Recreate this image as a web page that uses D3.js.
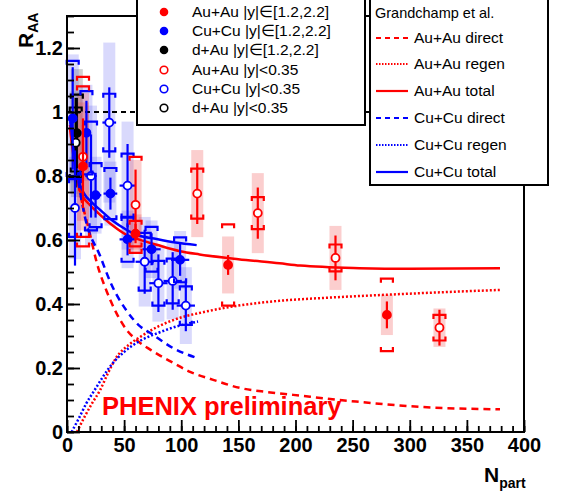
<!DOCTYPE html>
<html><head><meta charset="utf-8">
<script src="https://cdn.jsdelivr.net/npm/d3@7"></script>
<style>body{margin:0;background:#fff}svg{display:block;font-family:"Liberation Sans",Arial,Helvetica,sans-serif}</style>
</head><body><svg id="c" width="574" height="494"></svg>
<script>
// ---------- data ----------
const xTicks = [0, 50, 100, 150, 200, 250, 300, 350, 400];
const yTicks = [0, 0.2, 0.4, 0.6, 0.8, 1, 1.2];

// Au+Au |y| in [1.2,2.2] (filled red)
const auFwdNpart = [14, 60, 141, 280];
const auFwdRaa   = [0.83, 0.62, 0.522, 0.366];
const auFwdStat  = [0.13, 0.03, 0.031, 0.042];
const auFwdSys   = [0.25, 0.04, 0.127, 0.113];
const auFwdBox   = [0.20, 0.06, 0.089, 0.063];

// Au+Au |y|<0.35 (open red)
const auMidNpart = [14, 60, 114, 167, 235, 326];
const auMidRaa   = [0.86, 0.71, 0.745, 0.684, 0.544, 0.326];
const auMidStat  = [0.12, 0.11, 0.095, 0.08, 0.07, 0.056];
const auMidSys   = [0.25, 0.15, 0.078, 0.05, 0.042, 0.04];
const auMidBox   = [0.20, 0.14, 0.136, 0.125, 0.10, 0.06];

// Cu+Cu |y| in [1.2,2.2] (filled blue)
const cuFwdNpart = [5, 17, 25, 38, 53, 74, 99];
const cuFwdRaa   = [0.98, 0.935, 0.74, 0.745, 0.602, 0.571, 0.538];
const cuFwdStat  = [0.16, 0.10, 0.07, 0.05, 0.05, 0.05, 0.05];
const cuFwdSys   = [0.18, 0.13, 0.10, 0.08, 0.07, 0.07, 0.07];
const cuFwdBox   = [0.20, 0.15, 0.12, 0.10, 0.09, 0.09, 0.09];
const cuFwdNerr  = [2, 4, 5, 6, 7, 8, 8];

// Cu+Cu |y|<0.35 (open blue)
const cuMidNpart = [7, 21, 37, 53, 68, 80, 92.5, 104];
const cuMidRaa   = [0.70, 0.80, 0.967, 0.77, 0.532, 0.465, 0.472, 0.395];
const cuMidStat  = [0.18, 0.13, 0.11, 0.13, 0.10, 0.09, 0.09, 0.08];
const cuMidSys   = [0.09, 0.17, 0.09, 0.10, 0.09, 0.07, 0.07, 0.06];
const cuMidBox   = [0.16, 0.22, 0.25, 0.20, 0.14, 0.12, 0.12, 0.12];
const cuMidNerr  = [3, 5, 6, 7, 8, 8, 8, 8];

// d+Au
const dauFwdNpart = [8.6], dauFwdRaa = [0.934], dauFwdStat = [0.11], dauFwdSys = [0.12], dauFwdBox = [0.20];
const dauMidNpart = [7.6], dauMidRaa = [0.904], dauMidStat = [0.14], dauMidSys = [0.11], dauMidBox = [0.16];

// Grandchamp et al. curves
const auDirectN = [2.6, 7, 11.4, 20, 26, 34.7, 43.5, 52, 60, 73.5, 93, 107.7, 128, 151, 175, 198, 253, 311, 379];
const auDirectR = [0.96, 0.85, 0.75, 0.62, 0.53, 0.44, 0.37, 0.32, 0.29, 0.256, 0.216, 0.188, 0.163, 0.138, 0.125, 0.116, 0.095, 0.078, 0.071];
const auRegenN  = [8.7, 15, 22, 29, 36, 43.6, 54, 64, 80, 99, 116, 150, 186, 230, 274, 330, 379];
const auRegenR  = [0, 0.045, 0.09, 0.131, 0.185, 0.235, 0.272, 0.297, 0.33, 0.357, 0.372, 0.395, 0.41, 0.42, 0.428, 0.437, 0.444];
const auTotalN  = [2.6, 5, 7.5, 10, 14, 20, 27.4, 40, 52, 60, 78.5, 99, 116, 150, 186, 204, 256, 300, 379];
const auTotalR  = [0.95, 0.88, 0.82, 0.77, 0.735, 0.71, 0.684, 0.645, 0.616, 0.605, 0.585, 0.565, 0.555, 0.54, 0.527, 0.52, 0.512, 0.51, 0.512];
const cuDirectN = [3, 8, 15.8, 29, 39, 52, 64, 72.6, 93, 114.7];
const cuDirectR = [0.97, 0.83, 0.67, 0.55, 0.46, 0.38, 0.33, 0.31, 0.262, 0.23];
const cuRegenN  = [4, 10, 17, 24, 31, 40, 50, 64, 80, 96, 114.7];
const cuRegenR  = [0, 0.04, 0.09, 0.13, 0.17, 0.215, 0.25, 0.285, 0.31, 0.33, 0.345];
const cuTotalN  = [3, 6, 10, 15, 21, 29, 40, 52, 59.5, 78.5, 95, 113.5];
const cuTotalR  = [0.97, 0.88, 0.79, 0.745, 0.72, 0.694, 0.66, 0.632, 0.618, 0.603, 0.592, 0.584];

const legend1Labels = ["Au+Au |y|\u2208[1.2,2.2]", "Cu+Cu |y|\u2208[1.2,2.2]", "d+Au |y|\u2208[1.2,2.2]",
                       "Au+Au |y|<0.35", "Cu+Cu |y|<0.35", "d+Au |y|<0.35"];
const legend2Labels = ["Au+Au direct", "Au+Au regen", "Au+Au total", "Cu+Cu direct", "Cu+Cu regen", "Cu+Cu total"];

// ---------- drawing ----------
const RED = "#ff0000", BLUE = "#0000ff", BLACK = "#000";
const svg = d3.select("#c");
const x = d3.scaleLinear().domain([0, 400]).range([67, 524]);
const y = d3.scaleLinear().domain([0, 1.3]).range([432, 16]);

function pts(n, r, st, sy, bx, ne) {
  return n.map((v, i) => ({n: v, r: r[i], stat: st[i], sys: sy[i], box: bx[i], nerr: ne ? ne[i] : 0}));
}
const series = [
  {d: pts(dauFwdNpart, dauFwdRaa, dauFwdStat, dauFwdSys, dauFwdBox), c: BLACK, filled: true, bf: "rgba(120,120,120,0.35)"},
  {d: pts(dauMidNpart, dauMidRaa, dauMidStat, dauMidSys, dauMidBox), c: BLACK, filled: false, bf: "rgba(120,120,120,0.25)"},
  {d: pts(cuMidNpart, cuMidRaa, cuMidStat, cuMidSys, cuMidBox, cuMidNerr), c: BLUE, filled: false, bf: "rgba(80,80,240,0.22)"},
  {d: pts(cuFwdNpart, cuFwdRaa, cuFwdStat, cuFwdSys, cuFwdBox, cuFwdNerr), c: BLUE, filled: true, bf: "rgba(80,80,240,0.22)"},
  {d: pts(auMidNpart, auMidRaa, auMidStat, auMidSys, auMidBox), c: RED, filled: false, bf: "rgba(240,60,60,0.25)"},
  {d: pts(auFwdNpart, auFwdRaa, auFwdStat, auFwdSys, auFwdBox), c: RED, filled: true, bf: "rgba(240,60,60,0.25)"},
];

// boxes
const gBox = svg.append("g");
series.forEach(s => {
  gBox.selectAll(null).data(s.d).enter().append("rect")
    .attr("x", d => x(d.n) - 6).attr("width", 12)
    .attr("y", d => y(d.r + d.box)).attr("height", d => y(d.r - d.box) - y(d.r + d.box))
    .attr("fill", s.bf);
});

// reference line at 1
svg.append("line").attr("x1", x(0)).attr("x2", x(400)).attr("y1", y(1)).attr("y2", y(1))
  .attr("stroke", "#000").attr("stroke-width", 2).attr("stroke-dasharray", "5,4");

// curves
const line = d3.line().x(d => x(d[0])).y(d => y(d[1])).curve(d3.curveMonotoneX);
const curves = [
  {n: auDirectN, r: auDirectR, c: RED, dash: "7,5"},
  {n: auRegenN, r: auRegenR, c: RED, dash: "2,2"},
  {n: auTotalN, r: auTotalR, c: RED, dash: null},
  {n: cuDirectN, r: cuDirectR, c: BLUE, dash: "7,5"},
  {n: cuRegenN, r: cuRegenR, c: BLUE, dash: "2,2"},
  {n: cuTotalN, r: cuTotalR, c: BLUE, dash: null},
];
curves.forEach(cv => {
  svg.append("path").attr("d", line(d3.zip(cv.n, cv.r))).attr("fill", "none")
    .attr("stroke", cv.c).attr("stroke-width", 2.5).attr("stroke-dasharray", cv.dash);
});

// error bars and markers
series.forEach(s => {
  const g = svg.append("g").attr("stroke", s.c).attr("stroke-width", 2.2).attr("fill", "none");
  g.selectAll(null).data(s.d).enter().append("line")
    .attr("x1", d => x(d.n)).attr("x2", d => x(d.n))
    .attr("y1", d => y(d.r + d.stat)).attr("y2", d => y(d.r - d.stat));
  g.selectAll(null).data(s.d.filter(d => d.nerr > 0)).enter().append("line")
    .attr("x1", d => x(d.n - d.nerr)).attr("x2", d => x(d.n + d.nerr))
    .attr("y1", d => y(d.r)).attr("y2", d => y(d.r));
  g.selectAll(null).data(s.d).enter().append("path")
    .attr("d", d => {
      const cx = x(d.n), yt = y(d.r + d.sys), yb = y(d.r - d.sys);
      return `M${cx-6},${yt+4}V${yt}H${cx+6}V${yt+4}M${cx-6},${yb-4}V${yb}H${cx+6}V${yb-4}`;
    });
  svg.append("g").selectAll(null).data(s.d).enter().append("circle")
    .attr("cx", d => x(d.n)).attr("cy", d => y(d.r)).attr("r", 4)
    .attr("fill", s.filled ? s.c : "#fff").attr("stroke", s.c).attr("stroke-width", 1.8);
});

// axes
const yAxisMinor = d3.axisLeft(y).tickValues(d3.range(0, 1.3001, 0.05)).tickSize(-7).tickFormat("");
const yAxis = d3.axisLeft(y).tickValues(yTicks).tickSize(-13).tickPadding(4)
  .tickFormat(d => d === 0 ? "0" : d === 1 ? "1" : d.toFixed(1));
const xAxisMinor = d3.axisBottom(x).tickValues(d3.range(0, 401, 10)).tickSize(-6).tickFormat("");
const xAxis = d3.axisBottom(x).tickValues(xTicks).tickSize(-12).tickPadding(6);
[[yAxisMinor, "y"], [yAxis, "y"], [xAxisMinor, "x"], [xAxis, "x"]].forEach(([ax, t]) => {
  const g = svg.append("g").attr("transform", t === "y" ? `translate(${x(0)},0)` : `translate(0,${y(0)})`).call(ax);
  g.select(".domain").remove();
  g.selectAll("line").attr("stroke", "#000").attr("stroke-width", 1.8);
  g.selectAll("text").attr("font-size", 20).attr("font-weight", "bold").attr("fill", "#000")
    .attr("font-family", '"Liberation Sans",Arial,sans-serif');
});

// frame
svg.append("rect").attr("x", x(0)).attr("y", y(1.3)).attr("width", x(400) - x(0)).attr("height", y(0) - y(1.3))
  .attr("fill", "none").attr("stroke", "#000").attr("stroke-width", 2);

// axis titles
const yt = svg.append("text").attr("transform", "translate(33,48) rotate(-90)")
  .attr("font-weight", "bold").attr("font-size", 21).attr("fill", "#000");
yt.append("tspan").text("R");
yt.append("tspan").attr("font-size", 14).attr("dy", 5).text("AA");
const xt = svg.append("text").attr("x", 484).attr("y", 482).attr("font-weight", "bold").attr("font-size", 21).attr("fill", "#000");
xt.append("tspan").text("N");
xt.append("tspan").attr("font-size", 14).attr("dy", 6).text("part");

// PHENIX preliminary
svg.append("text").attr("x", 102).attr("y", 415).attr("font-weight", "bold").attr("font-size", 25.5)
  .attr("fill", RED).text("PHENIX preliminary");

// legend 1
svg.append("rect").attr("x", 137).attr("y", -2).attr("width", 228).attr("height", 127)
  .attr("fill", "#fff").attr("stroke", "#000").attr("stroke-width", 2);
const l1c = [RED, BLUE, BLACK, RED, BLUE, BLACK];
const l1y = [12, 31, 50, 70, 89, 108];
legend1Labels.forEach((t, i) => {
  const filled = i < 3;
  svg.append("circle").attr("cx", 164).attr("cy", l1y[i]).attr("r", filled ? 3.5 : 3.8)
    .attr("fill", filled ? l1c[i] : "#fff").attr("stroke", l1c[i]).attr("stroke-width", 1.6);
  svg.append("text").attr("x", 192).attr("y", l1y[i]).attr("dy", "0.35em").attr("font-size", 15.5)
    .attr("fill", "#000").text(t);
});

// legend 2
svg.append("rect").attr("x", 370).attr("y", -2).attr("width", 178).attr("height", 187)
  .attr("fill", "#fff").attr("stroke", "#000").attr("stroke-width", 2);
svg.append("text").attr("x", 375).attr("y", 13).attr("dy", "0.35em").attr("font-size", 14.5).attr("fill", "#000")
  .text("Grandchamp et al.");
const l2y = [38, 64, 91, 118, 145, 172];
legend2Labels.forEach((t, i) => {
  const cv = curves[i];
  svg.append("line").attr("x1", 376).attr("x2", 408).attr("y1", l2y[i]).attr("y2", l2y[i])
    .attr("stroke", cv.c).attr("stroke-width", 2.2).attr("stroke-dasharray", cv.dash ? (cv.dash === "2,2" ? "1.5,1.5" : "5,4") : null);
  svg.append("text").attr("x", 414).attr("y", l2y[i]).attr("dy", "0.35em").attr("font-size", 15.5)
    .attr("fill", "#000").text(t);
});
</script></body></html>
